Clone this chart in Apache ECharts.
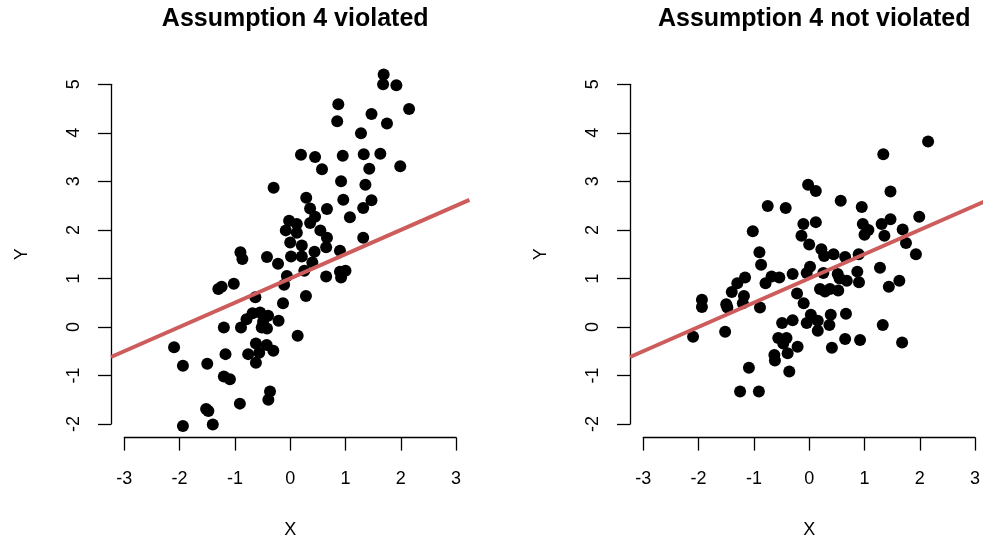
<!DOCTYPE html>
<html>
<head>
<meta charset="utf-8">
<script src="https://cdn.jsdelivr.net/npm/echarts@6/dist/echarts.min.js"></script>
<style>
  html, body { margin: 0; padding: 0; background: #ffffff; }
  #chart { width: 983px; height: 539px; }
</style>
</head>
<body>
<div id="chart"></div>
<script>
// Tick values shared by both panels
const xTicks = [-3, -2, -1, 0, 1, 2, 3];
const yTicks = [-2, -1, 0, 1, 2, 3, 4, 5];

const panelTitles = ['Assumption 4 violated', 'Assumption 4 not violated'];

// Panel 1: X correlated with the error term
const violatedX = [1.69, 1.68, 1.92, 2.15, 0.87, 0.85, 1.47, 1.75, 1.28, 0.195, 0.45, 0.575, 0.95, 1.33, 1.63, 1.43, 1.99, 0.92, 1.36, -0.30,
  0.29, 0.96, 1.47, 0.36, 0.665, 1.32, 0.45, 1.08, 0.36, -0.02, 0.12, -0.08, 0.12, 0.545, 0.665, 1.32, 0.0, 0.21, 0.65, 0.44,
  0.90, -0.90, -0.42, 0.015,
  -0.865, -0.22, 0.21, 0.40, 0.255, -0.06, -0.11, 0.65, 0.90, 1.00, 0.92, -1.30, -1.24, -1.02, -0.63, -0.13, 0.285,
  -0.68, -0.545, -0.40, -0.79, -0.49, -0.42, -0.515, -0.21, -0.89, -1.20,
  0.135, -2.10, -1.94, -1.50, -1.17,
  -0.62, -0.425, -0.56, -0.76, -0.305, -0.62,
  -1.20, -1.09, -0.365, -0.395, -0.91, -1.52, -1.48, -1.94, -1.40];
const violatedY = [5.20, 5.00, 4.98, 4.49, 4.59, 4.24, 4.39, 4.19, 3.99, 3.55, 3.50, 3.25, 3.53, 3.56, 3.57, 3.26, 3.31, 3.00, 2.93, 2.87,
  2.66, 2.62, 2.61, 2.44, 2.43, 2.45, 2.27, 2.26, 2.14, 2.19, 2.12, 1.99, 1.94, 1.99, 1.84, 1.84, 1.74, 1.68, 1.64, 1.55,
  1.57, 1.54, 1.44, 1.45,
  1.40, 1.30, 1.45, 1.33, 1.16, 1.05, 0.87, 1.04, 1.14, 1.16, 1.02, 0.78, 0.83, 0.89, 0.61, 0.49, 0.64,
  0.28, 0.30, 0.23, 0.16, 0.11, -0.03, -0.01, 0.13, -0.01, -0.01,
  -0.18, -0.42, -0.80, -0.76, -0.56,
  -0.34, -0.37, -0.53, -0.56, -0.49, -0.74,
  -1.02, -1.08, -1.33, -1.50, -1.58, -1.69, -1.73, -2.04, -2.01];

// Panel 2: X independent of the error term
const validX = [2.15, 1.34, -0.02, 0.12, 1.47, -0.75, -0.425, 0.57, 0.95, 1.99, -0.105, 0.12, 0.97, 1.31, 1.47, 1.69, 1.07, 1.00, 1.36, -1.02,
  -0.14, 0.0, 1.75, -0.90, 0.22, 0.27, 0.44, 0.65, 0.895, 1.93, -0.87, 0.015, 1.28, -1.16, -0.68, -0.54, -0.30, -0.045, 0.255, 0.515,
  0.87, 1.63,
  -1.30, -1.40, -1.18, -1.94, -1.94, -1.50, -1.48, -1.20, -0.89, -0.79, 0.55, 0.68, 0.90, 1.44, -0.22,
  0.195, 0.375, 0.285, 0.525, -0.10, -2.10, -1.52, -0.49, -0.30,
  0.03, -0.045, 0.155, 0.155, 0.39, 0.365, 0.665, 1.33,
  -0.56, -0.41, -0.47, -0.21, 0.41, 0.65, 0.92, 1.68,
  -0.63, -0.62, -0.39, -0.36, -1.09, -1.25, -0.91];
const validY = [3.82, 3.56, 2.93, 2.80, 2.79, 2.49, 2.45, 2.60, 2.47, 2.27, 2.12, 2.16, 2.12, 2.12, 2.22, 2.01, 2.00, 1.90, 1.88, 1.97,
  1.88, 1.70, 1.73, 1.54, 1.60, 1.46, 1.50, 1.44, 1.50, 1.50, 1.28, 1.24, 1.22, 1.02, 1.04, 1.02, 1.09, 1.11, 1.11, 1.09,
  1.14, 0.95,
  0.90, 0.72, 0.64, 0.56, 0.41, 0.47, 0.40, 0.49, 0.40, 0.90, 1.00, 0.95, 0.92, 0.83, 0.69,
  0.78, 0.78, 0.73, 0.75, 0.49, -0.20, -0.10, 0.08, 0.14,
  0.25, 0.08, 0.13, -0.08, 0.25, 0.04, 0.27, 0.04,
  -0.23, -0.23, -0.34, -0.41, -0.43, -0.25, -0.27, -0.32,
  -0.58, -0.69, -0.54, -0.92, -0.84, -1.33, -1.33];

// Reference line y = a + b x drawn in each panel
const lineIntercept = [1, 1];
const lineSlope = [0.5, 0.5];

const FONT = '"Liberation Sans", Arial, sans-serif';
const pxPerX = 55.3;      // pixels per x unit
const pxPerY = 48.53;     // pixels per y unit
const firstXTickPx = 124.3;
const topYTickPx = 84.3;
const panelShift = 519;
const pad = 0.04;         // plot region extends 4% beyond the tick range

const xLo = xTicks[0], xHi = xTicks[xTicks.length - 1];
const yLo = yTicks[0], yHi = yTicks[yTicks.length - 1];
const xPad = (xHi - xLo) * pad, yPad = (yHi - yLo) * pad;
const xMin = xLo - xPad, xMax = xHi + xPad;
const yMin = yLo - yPad, yMax = yHi + yPad;

const grids = [], xAxes = [], yAxes = [], series = [], titles = [];
const panels = [[violatedX, violatedY], [validX, validY]];

const makeGrid = (left, top, width, height) =>
  ({ left, top, width, height, containLabel: false, outerBoundsMode: 'none' });
const hiddenAxis = (min, max, gridIndex) => ({ type: 'value', gridIndex, min, max, show: false });
const axisStroke = { color: '#000', width: 1.3 };

panels.forEach(([xs, ys], p) => {
  const ox = p * panelShift;
  const plotLeft = ox + firstXTickPx - xPad * pxPerX;
  const plotTop = topYTickPx - yPad * pxPerY;
  const plotW = (xMax - xMin) * pxPerX;
  const plotH = (yMax - yMin) * pxPerY;
  const g0 = grids.length;

  // data region
  grids.push(makeGrid(plotLeft, plotTop, plotW, plotH));
  xAxes.push(hiddenAxis(xMin, xMax, g0));
  yAxes.push(hiddenAxis(yMin, yMax, g0));

  // bottom axis spanning the tick range only
  grids.push(makeGrid(ox + firstXTickPx, plotTop, (xHi - xLo) * pxPerX, plotH));
  xAxes.push({
    type: 'value', gridIndex: g0 + 1, min: xLo, max: xHi, interval: xTicks[1] - xTicks[0],
    position: 'bottom',
    name: 'X', nameLocation: 'middle', nameGap: 83,
    nameTextStyle: { fontFamily: FONT, fontSize: 18, color: '#000' },
    axisLine: { show: true, onZero: false, lineStyle: axisStroke },
    axisTick: { show: true, inside: false, length: 13, lineStyle: axisStroke },
    axisLabel: { show: true, margin: 32, fontFamily: FONT, fontSize: 18, color: '#000' },
    splitLine: { show: false }
  });
  yAxes.push(hiddenAxis(yMin, yMax, g0 + 1));

  // left axis spanning the tick range only
  grids.push(makeGrid(plotLeft, topYTickPx, plotW, (yHi - yLo) * pxPerY));
  xAxes.push(hiddenAxis(xMin, xMax, g0 + 2));
  yAxes.push({
    type: 'value', gridIndex: g0 + 2, min: yLo, max: yHi, interval: yTicks[1] - yTicks[0],
    position: 'left',
    name: 'Y', nameLocation: 'middle', nameGap: 80, nameRotate: 90,
    nameTextStyle: { fontFamily: FONT, fontSize: 18, color: '#000' },
    axisLine: { show: true, onZero: false, lineStyle: axisStroke },
    axisTick: { show: true, inside: false, length: 13, lineStyle: axisStroke },
    axisLabel: { show: true, rotate: 90, margin: 28, fontFamily: FONT, fontSize: 18, color: '#000' },
    splitLine: { show: false }
  });

  series.push({
    type: 'scatter', xAxisIndex: g0, yAxisIndex: g0,
    data: xs.map((x, i) => [x, ys[i]]),
    symbol: 'circle', symbolSize: 12,
    itemStyle: { color: '#000', opacity: 1 },
    silent: true, z: 2
  });
  series.push({
    type: 'line', xAxisIndex: g0, yAxisIndex: g0,
    data: [xMin, xMax].map(x => [x, lineIntercept[p] + lineSlope[p] * x]),
    symbol: 'none', clip: true,
    lineStyle: { color: '#CD5C5C', width: 4 },
    silent: true, z: 3
  });

  titles.push({
    text: panelTitles[p],
    left: ox + firstXTickPx + (xHi - xLo) * pxPerX / 2,
    top: 2, textAlign: 'center',
    textStyle: { fontFamily: FONT, fontSize: 25, fontWeight: 'bold', color: '#000' }
  });
});

const chart = echarts.init(document.getElementById('chart'), null, { renderer: 'canvas' });
chart.setOption({
  animation: false,
  backgroundColor: '#ffffff',
  title: titles,
  grid: grids,
  xAxis: xAxes,
  yAxis: yAxes,
  series: series
});
</script>
</body>
</html>
